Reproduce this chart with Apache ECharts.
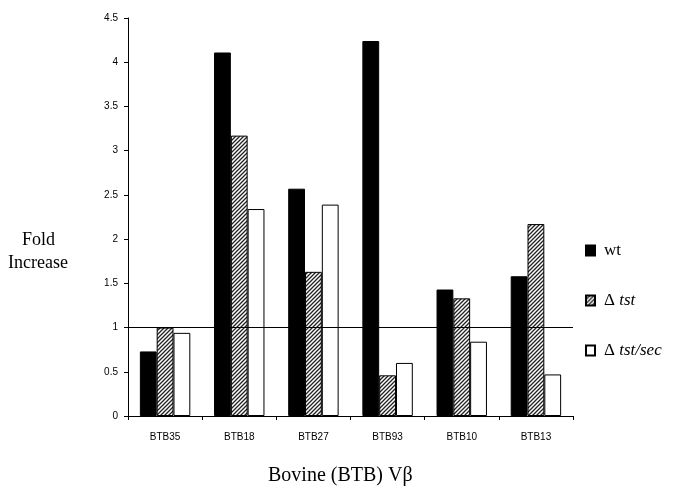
<!DOCTYPE html>
<html><head><meta charset="utf-8">
<script src="https://cdn.jsdelivr.net/npm/echarts@6/dist/echarts.min.js"></script>
<style>html,body{margin:0;padding:0;background:#fff}#c{width:673px;height:499px}</style>
</head><body><div id="c"></div>
<script>
const categories = ['BTB35','BTB18','BTB27','BTB93','BTB10','BTB13'];
const wt = [0.73, 4.11, 2.57, 4.24, 1.43, 1.58];
const dTst = [1.00, 3.17, 1.63, 0.46, 1.33, 2.17];
const dTstSec = [0.94, 2.34, 2.39, 0.60, 0.84, 0.47];
const yTicks = [0, 0.5, 1, 1.5, 2, 2.5, 3, 3.5, 4, 4.5];
const refLine = 1;

function hatch() {
  const c = document.createElement('canvas');
  c.width = 4; c.height = 4;
  const g = c.getContext('2d');
  g.fillStyle = '#ffffff'; g.fillRect(0,0,4,4);
  g.strokeStyle = '#222'; g.lineWidth = 1.3;
  g.beginPath();
  g.moveTo(-1,5); g.lineTo(5,-1);
  g.moveTo(-1,1); g.lineTo(1,-1);
  g.moveTo(3,5); g.lineTo(5,3);
  g.stroke();
  return c;
}
const hatchColor = {image: hatch(), repeat: 'repeat'};

const chart = echarts.init(document.getElementById('c'), null, {renderer:'canvas'});
const narrow = "'Liberation Sans Narrow','Liberation Sans',Arial,sans-serif";
const serif = "'Liberation Serif','Times New Roman',serif";
const barBase = {type:'bar', barGap:'0%', barCategoryGap:'32%', itemStyle:{borderColor:'#000', borderWidth:1}};
chart.setOption({
  animation:false,
  backgroundColor:'#fff',
  grid:{left:128, right:100, top:18, bottom:83},
  legend:{
    orient:'vertical', left:585, top:242, padding:0, itemGap:33, itemWidth:9, itemHeight:10,
    align:'left', icon:'rect',
    textStyle:{fontFamily:serif, fontSize:17, color:'#000', padding:[0,0,0,4],
      rich:{n:{fontFamily:serif, fontSize:17, color:'#000'}, i:{fontFamily:serif, fontSize:17, fontStyle:'italic', color:'#000'}}},
    formatter:function(name){
      if(name==='wt') return '{n|wt}';
      if(name==='Δ tst') return '{n|Δ }{i|tst}';
      return '{n|Δ }{i|tst/sec}';
    },
    data:['wt','Δ tst','Δ tst/sec']
  },
  xAxis:{type:'category', data:categories,
    axisLine:{lineStyle:{color:'#000', width:1}},
    axisTick:{show:true, length:4, lineStyle:{color:'#000'}},
    axisLabel:{fontFamily:narrow, fontSize:10, color:'#000', margin:16}},
  yAxis:{type:'value', min:0, max:4.5, interval:0.5,
    splitLine:{show:false},
    axisLine:{show:true, lineStyle:{color:'#000', width:1}},
    axisTick:{show:true, length:4, lineStyle:{color:'#000'}},
    axisLabel:{fontFamily:narrow, fontSize:10, color:'#000', margin:10,
      formatter:function(v){ return yTicks.indexOf(v)>=0 ? String(v) : ''; }}},
  graphic:[
    {type:'text', left:22, top:231, style:{text:'Fold', font:'18px '+serif, fill:'#000'}},
    {type:'text', left:8, top:254, style:{text:'Increase', font:'18px '+serif, fill:'#000'}},
    {type:'text', left:268, top:466, style:{text:'Bovine (BTB) Vβ', font:'20px '+serif, fill:'#000'}}
  ],
  series:[
    Object.assign({}, barBase, {name:'wt', data:wt, itemStyle:{color:'#000', borderColor:'#000', borderWidth:1}}),
    Object.assign({}, barBase, {name:'Δ tst', data:dTst, itemStyle:{color:hatchColor, borderColor:'#000', borderWidth:1}}),
    Object.assign({}, barBase, {name:'Δ tst/sec', data:dTstSec, itemStyle:{color:'#fff', borderColor:'#000', borderWidth:1},
      markLine:{silent:true, symbol:'none', label:{show:false}, lineStyle:{color:'#000', width:1, type:'solid'},
        data:[{yAxis:refLine}], z:10}})
  ]
});
</script></body></html>
